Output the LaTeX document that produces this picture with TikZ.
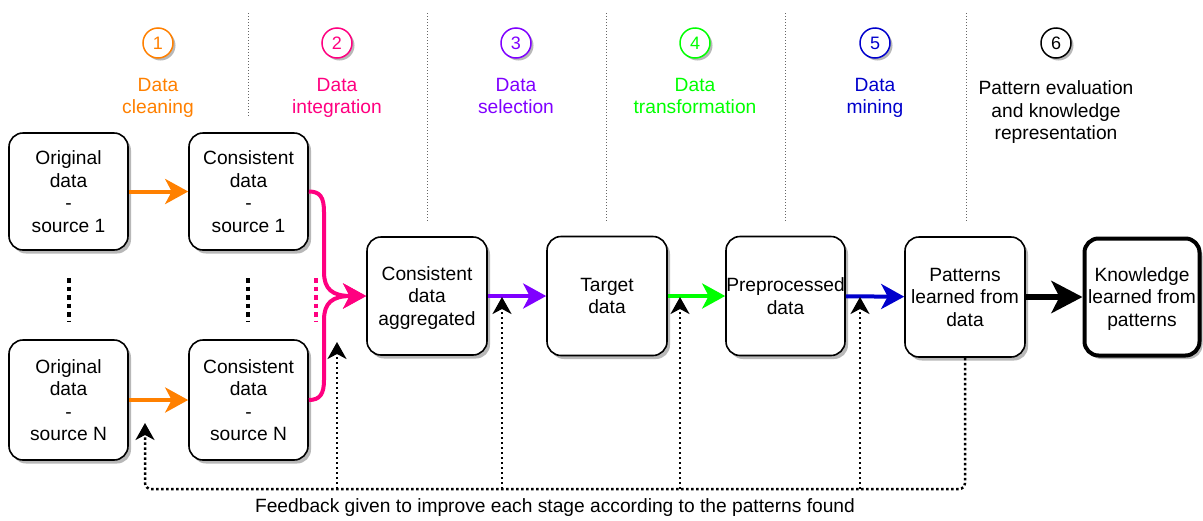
\documentclass[tikz,border=0pt]{standalone}
\usepackage{fontspec}
\setmainfont{Liberation Sans}
\usetikzlibrary{arrows.meta,shadows,calc}
\definecolor{cOrange}{HTML}{FF8000}
\definecolor{cPink}{HTML}{FF0080}
\definecolor{cPurple}{HTML}{7F00FF}
\definecolor{cGreen}{HTML}{00FF00}
\definecolor{cBlue}{HTML}{0000CC}
\definecolor{cSep}{HTML}{666666}
\begin{document}
\begin{tikzpicture}[x=1pt,y=-1pt,
  txt/.style={font=\fontsize{19.2}{22.5}\selectfont, align=center, inner sep=0pt, text depth=0pt},
  stagebox/.style={txt, draw=black, line width=1.6pt, fill=white, rounded corners=14pt,
    minimum width=119pt, minimum height=117pt,
    drop shadow={shadow xshift=3pt, shadow yshift=-3.5pt, fill=black!28, opacity=1}},
  numcirc/.style={circle, draw=#1, text=#1, line width=1.5pt, fill=white, minimum size=30pt, inner sep=0pt,
    font=\fontsize{18}{20}\selectfont,
    drop shadow={shadow xshift=2.5pt, shadow yshift=-2.5pt, fill=black!28, opacity=1}},
  stagelabel/.style={txt, text=#1},
  sepline/.style={draw=cSep, line width=1pt, dash pattern=on 1pt off 2pt},
  vdots/.style={line width=4pt, dash pattern=on 4.5pt off 4pt},
  flow/.style={draw=#1, line width=4pt, -{Stealth[length=23pt,width=25pt,inset=6.5pt]}},
  fb/.style={draw=black, line width=2.5pt, dash pattern=on 2.5pt off 2.5pt},
  fbtip/.style={-{Stealth[length=17pt,width=19pt,inset=5pt]}}
]
\useasboundingbox (0,0) rectangle (1203,520);

% separators
\foreach \n/\x/\yb in {s1/248/117, s2/427/222, s3/606/222, s4/785/222, s5/966/222} {
  \coordinate (\n a) at (\x,13);
  \coordinate (\n b) at (\x,\yb);
  \draw[sepline] (\n a) -- (\n b);
}

% stage numbers and labels
\node[numcirc=cOrange] (n1) at (158,43) {1};
\node[numcirc=cPink]   (n2) at (337,43) {2};
\node[numcirc=cPurple] (n3) at (516,43) {3};
\node[numcirc=cGreen]  (n4) at (695,43) {4};
\node[numcirc=cBlue]   (n5) at (875,43) {5};
\node[numcirc=black]   (n6) at (1056,43) {6};

\node[stagelabel=cOrange] (l1) at (158,96) {Data\\cleaning};
\node[stagelabel=cPink]   (l2) at (337,96) {Data\\integration};
\node[stagelabel=cPurple] (l3) at (516,96) {Data\\selection};
\node[stagelabel=cGreen]  (l4) at (695,96) {Data\\transformation};
\node[stagelabel=cBlue]   (l5) at (875,96) {Data\\mining};
\node[stagelabel=black]   (l6) at (1056,110.5) {Pattern evaluation\\and knowledge\\representation};

% boxes
\node[stagebox] (o1) at (68.5,191.5) {Original\\data\\-\\source 1};
\node[stagebox] (c1) at (248.5,191.5) {Consistent\\data\\-\\source 1};
\node[stagebox, minimum height=120pt] (oN) at (68.5,400) {Original\\data\\-\\source N};
\node[stagebox, minimum height=120pt] (cN) at (248.5,400) {Consistent\\data\\-\\source N};
\node[stagebox, minimum width=120pt, minimum height=118pt] (agg) at (427,296) {Consistent\\data\\aggregated};
\node[stagebox, minimum width=120pt, minimum height=119pt] (tgt) at (607,296) {Target\\data};
\node[stagebox, minimum width=119pt, minimum height=119pt] (pre) at (785.5,296) {Preprocessed\\data};
\node[stagebox, minimum width=120pt, minimum height=120pt] (pat) at (965,297) {Patterns\\learned from\\data};
\node[stagebox, line width=4pt, minimum width=115pt, minimum height=117pt] (kno) at (1142,297) {Knowledge\\learned from\\patterns};

% vertical ellipsis marks
\coordinate (d1a) at (69,278);  \coordinate (d1b) at (69,321);
\coordinate (d2a) at (248,278); \coordinate (d2b) at (248,321);
\coordinate (d3a) at (316,278); \coordinate (d3b) at (316,321);
\draw[vdots] (d1a) -- (d1b);
\draw[vdots] (d2a) -- (d2b);
\draw[vdots, draw=cPink] (d3a) -- (d3b);

% flow arrows
\draw[flow=cOrange] (o1) -- (c1);
\draw[flow=cOrange] (oN) -- (cN);
\draw[flow=cPink] (c1.east) .. controls (320,191.5) and (324,197) .. (324,212) -- (324,272)
   .. controls (324,289) and (332,296) .. (agg.west);
\draw[flow=cPink] (cN.east) .. controls (320,400) and (324,394) .. (324,380) -- (324,320)
   .. controls (324,303) and (332,296) .. (agg.west);
\draw[flow=cPurple] (agg) -- (tgt);
\draw[flow=cGreen] (tgt) -- (pre);
\draw[flow=cBlue] (pre) -- (pat);
\draw[line width=6pt, -{Stealth[length=31pt,width=32pt,inset=8pt]}] (pat) -- (kno);

% feedback
\coordinate (fbR) at (965,489);
\coordinate (fbL) at (145,489);
\coordinate (t0) at (145,423);
\foreach \n/\x/\y in {1/337/342, 2/502/297, 3/680/297, 4/860/297} {
  \coordinate (b\n) at (\x,489);
  \coordinate (t\n) at (\x,\y);
}
\draw[fb, fbtip, rounded corners=6pt] (pat.south) -- (fbR) -- (fbL) -- (t0);
\foreach \n in {1,2,3,4} { \draw[fb, fbtip] (b\n) -- (t\n); }

\node[txt, font=\fontsize{19.2}{22}\selectfont] (fbtext) at (555,506) {Feedback given to improve each stage according to the patterns found};
\end{tikzpicture}
\end{document}
